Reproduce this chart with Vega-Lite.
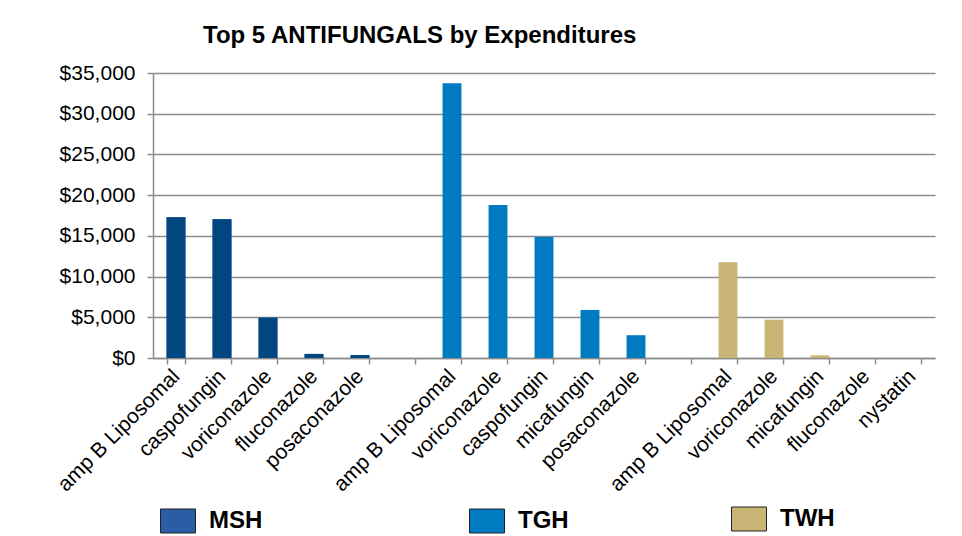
{
  "$schema": "https://vega.github.io/schema/vega-lite/v6.json",
  "width": 782,
  "height": 285,
  "autosize": {"type": "none"},
  "padding": {"left": 153, "top": 73, "right": 27, "bottom": 178},
  "background": "white",
  "title": {
    "text": "Top 5 ANTIFUNGALS by Expenditures",
    "anchor": "start",
    "frame": "group",
    "dx": 50,
    "offset": 14,
    "fontSize": 24,
    "font": "Liberation Sans",
    "fontWeight": "bold",
    "color": "black"
  },
  "config": {
    "view": {"stroke": null},
    "axis": {
      "labelFont": "Liberation Sans",
      "labelColor": "black",
      "domainColor": "#8c8c8c",
      "domainWidth": 1.5,
      "tickColor": "#8c8c8c",
      "tickWidth": 1.5,
      "tickSize": 6
    },
    "legend": {
      "orient": "none",
      "title": null,
      "padding": 0,
      "symbolType": "M-1,-0.686L1,-0.686L1,0.686L-1,0.686Z",
      "symbolSize": 1225,
      "symbolStrokeColor": "#222222",
      "symbolStrokeWidth": 1,
      "labelFont": "Liberation Sans",
      "labelFontSize": 24,
      "labelFontWeight": "bold",
      "labelColor": "black",
      "labelOffset": 13
    }
  },
  "data": {
    "values": [
      {"key": "MSH|amp B Liposomal", "hospital": "MSH", "drug": "amp B Liposomal", "cost": 17300},
      {"key": "MSH|caspofungin", "hospital": "MSH", "drug": "caspofungin", "cost": 17050},
      {"key": "MSH|voriconazole", "hospital": "MSH", "drug": "voriconazole", "cost": 4950},
      {"key": "MSH|fluconazole", "hospital": "MSH", "drug": "fluconazole", "cost": 500},
      {"key": "MSH|posaconazole", "hospital": "MSH", "drug": "posaconazole", "cost": 350},
      {"key": "TGH|amp B Liposomal", "hospital": "TGH", "drug": "amp B Liposomal", "cost": 33750},
      {"key": "TGH|voriconazole", "hospital": "TGH", "drug": "voriconazole", "cost": 18800},
      {"key": "TGH|caspofungin", "hospital": "TGH", "drug": "caspofungin", "cost": 14850},
      {"key": "TGH|micafungin", "hospital": "TGH", "drug": "micafungin", "cost": 5900},
      {"key": "TGH|posaconazole", "hospital": "TGH", "drug": "posaconazole", "cost": 2800},
      {"key": "TWH|amp B Liposomal", "hospital": "TWH", "drug": "amp B Liposomal", "cost": 11750},
      {"key": "TWH|voriconazole", "hospital": "TWH", "drug": "voriconazole", "cost": 4700},
      {"key": "TWH|micafungin", "hospital": "TWH", "drug": "micafungin", "cost": 330},
      {"key": "TWH|fluconazole", "hospital": "TWH", "drug": "fluconazole", "cost": 0},
      {"key": "TWH|nystatin", "hospital": "TWH", "drug": "nystatin", "cost": 0}
    ]
  },
  "encoding": {
    "x": {
      "field": "key",
      "type": "nominal",
      "sort": null,
      "scale": {
        "domain": [
          "MSH|amp B Liposomal", "MSH|caspofungin", "MSH|voriconazole", "MSH|fluconazole", "MSH|posaconazole",
          "gap1|",
          "TGH|amp B Liposomal", "TGH|voriconazole", "TGH|caspofungin", "TGH|micafungin", "TGH|posaconazole",
          "gap2|",
          "TWH|amp B Liposomal", "TWH|voriconazole", "TWH|micafungin", "TWH|fluconazole", "TWH|nystatin"
        ],
        "paddingInner": 0.59,
        "paddingOuter": 0.295
      },
      "axis": {
        "title": null,
        "labelExpr": "split(datum.label, '|')[1]",
        "labelAngle": -45,
        "labelAlign": "right",
        "labelBaseline": "middle",
        "labelFontSize": 21,
        "labelPadding": 9,
        "tickBand": "extent",
        "grid": false
      }
    },
    "y": {
      "field": "cost",
      "type": "quantitative",
      "scale": {"domain": [0, 35000], "nice": false},
      "axis": {
        "title": null,
        "values": [0, 5000, 10000, 15000, 20000, 25000, 30000, 35000],
        "format": "$,.0f",
        "labelFontSize": 21,
        "labelPadding": 12,
        "grid": true,
        "gridColor": "#8c8c8c",
        "gridWidth": 1.5
      }
    }
  },
  "layer": [
    {
      "transform": [{"filter": "datum.hospital === 'MSH'"}],
      "mark": {"type": "bar"},
      "encoding": {
        "color": {
          "field": "hospital",
          "type": "nominal",
          "scale": {"domain": ["MSH"], "range": ["#2B5CA6"]},
          "legend": {"legendX": 7, "legendY": 430}
        }
      }
    },
    {
      "transform": [{"filter": "datum.hospital === 'MSH'"}],
      "mark": {"type": "bar", "color": "#004680"}
    },
    {
      "transform": [{"filter": "datum.hospital === 'TGH'"}],
      "mark": {"type": "bar"},
      "encoding": {
        "color": {
          "field": "hospital",
          "type": "nominal",
          "scale": {"domain": ["TGH"], "range": ["#007AC0"]},
          "legend": {"legendX": 316, "legendY": 430}
        }
      }
    },
    {
      "transform": [{"filter": "datum.hospital === 'TWH'"}],
      "mark": {"type": "bar"},
      "encoding": {
        "color": {
          "field": "hospital",
          "type": "nominal",
          "scale": {"domain": ["TWH"], "range": ["#C8B575"]},
          "legend": {"legendX": 578, "legendY": 428}
        }
      }
    }
  ],
  "resolve": {"scale": {"color": "independent"}, "legend": {"color": "independent"}}
}
